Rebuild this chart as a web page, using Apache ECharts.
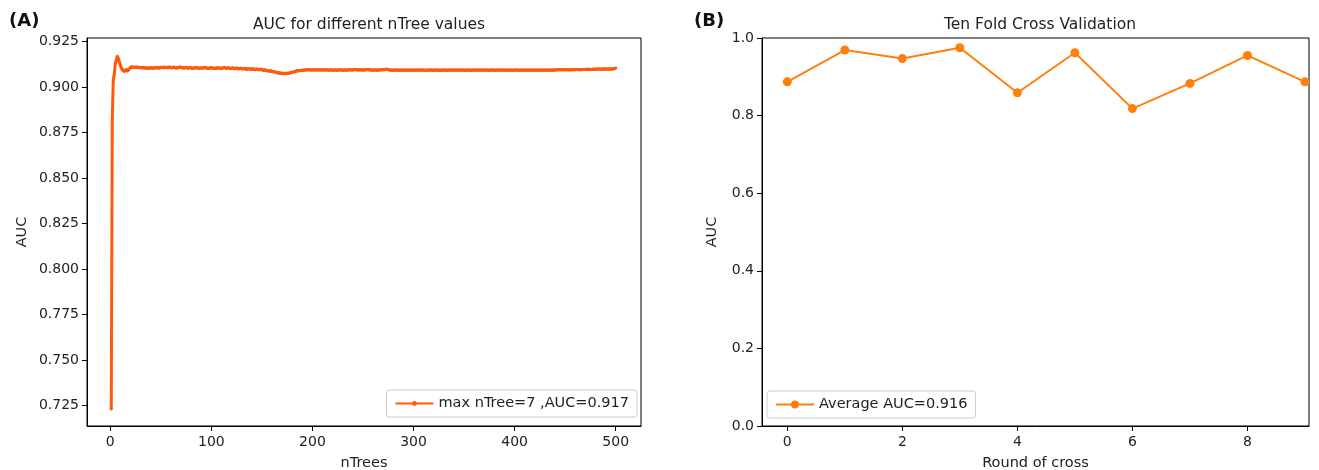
<!DOCTYPE html>
<html><head><meta charset="utf-8">
<script src="https://cdn.jsdelivr.net/npm/echarts@6/dist/echarts.min.js"></script>
<style>html,body{margin:0;padding:0;background:#fff}#c{width:1319px;height:470px}</style>
</head><body><div id="c"></div>
<script>
// Panel A: AUC for nTree = 1..500
const aucByTree = [
.7230,.8820,.9040,.9070,.9130,.9150,.9170,.9160,.9140,.9120,
.9105,.9095,.9090,.9086,.9092,.9098,.9089,.9094,.9101,.9109,
.9112,.9110,.9108,.9111,.9109,.9107,.9110,.9108,.9106,.9109,
.9107,.9105,.9108,.9106,.9104,.9107,.9105,.9103,.9106,.9108,
.9105,.9103,.9106,.9104,.9107,.9109,.9106,.9104,.9107,.9110,
.9108,.9106,.9109,.9111,.9108,.9106,.9109,.9107,.9110,.9108,
.9106,.9108,.9110,.9107,.9105,.9108,.9106,.9109,.9111,.9108,
.9106,.9108,.9105,.9107,.9109,.9106,.9104,.9106,.9108,.9105,
.9103,.9105,.9107,.9104,.9106,.9108,.9105,.9103,.9105,.9107,
.9104,.9106,.9108,.9105,.9107,.9104,.9102,.9105,.9107,.9104,
.9106,.9104,.9102,.9104,.9106,.9103,.9105,.9107,.9104,.9102,
.9104,.9106,.9108,.9105,.9103,.9105,.9107,.9104,.9102,.9104,
.9106,.9103,.9101,.9103,.9105,.9102,.9100,.9102,.9104,.9101,
.9099,.9101,.9103,.9100,.9098,.9100,.9102,.9099,.9097,.9099,
.9101,.9098,.9096,.9098,.9100,.9097,.9095,.9097,.9099,.9096,
.9094,.9092,.9095,.9093,.9090,.9092,.9089,.9087,.9090,.9086,
.9084,.9086,.9083,.9081,.9079,.9081,.9078,.9076,.9078,.9075,
.9074,.9077,.9075,.9073,.9076,.9078,.9076,.9079,.9082,.9080,
.9083,.9086,.9085,.9088,.9090,.9089,.9091,.9093,.9092,.9094,
.9093,.9095,.9094,.9096,.9095,.9094,.9096,.9095,.9094,.9095,
.9096,.9095,.9094,.9095,.9096,.9095,.9094,.9095,.9094,.9095,
.9094,.9095,.9096,.9095,.9094,.9093,.9094,.9095,.9094,.9093,
.9094,.9095,.9094,.9093,.9094,.9095,.9094,.9095,.9094,.9093,
.9094,.9095,.9094,.9093,.9094,.9095,.9096,.9095,.9094,.9095,
.9096,.9098,.9097,.9095,.9094,.9095,.9096,.9095,.9094,.9095,
.9094,.9095,.9096,.9098,.9097,.9095,.9094,.9095,.9094,.9093,
.9094,.9095,.9094,.9093,.9094,.9095,.9094,.9095,.9096,.9095,
.9096,.9098,.9099,.9098,.9096,.9095,.9094,.9094,.9093,.9094,
.9094,.9093,.9094,.9094,.9093,.9094,.9094,.9093,.9094,.9094,
.9093,.9094,.9094,.9093,.9094,.9093,.9094,.9094,.9093,.9094,
.9094,.9093,.9094,.9094,.9093,.9094,.9094,.9093,.9094,.9094,
.9093,.9094,.9093,.9094,.9094,.9093,.9094,.9094,.9093,.9094,
.9094,.9093,.9094,.9094,.9093,.9094,.9093,.9094,.9094,.9093,
.9094,.9094,.9093,.9094,.9094,.9093,.9094,.9094,.9093,.9094,
.9094,.9093,.9094,.9094,.9093,.9094,.9094,.9093,.9094,.9094,
.9093,.9094,.9094,.9093,.9094,.9094,.9093,.9094,.9094,.9093,
.9094,.9094,.9093,.9094,.9094,.9093,.9094,.9094,.9093,.9094,
.9094,.9093,.9094,.9094,.9093,.9094,.9094,.9093,.9094,.9094,
.9093,.9094,.9094,.9093,.9094,.9094,.9093,.9094,.9094,.9093,
.9094,.9094,.9093,.9094,.9094,.9093,.9094,.9094,.9093,.9094,
.9094,.9093,.9094,.9094,.9093,.9094,.9094,.9093,.9094,.9094,
.9093,.9094,.9094,.9093,.9094,.9094,.9093,.9094,.9094,.9093,
.9094,.9094,.9093,.9094,.9094,.9093,.9094,.9094,.9093,.9094,
.9094,.9093,.9094,.9094,.9093,.9094,.9094,.9093,.9094,.9095,
.9094,.9095,.9096,.9095,.9096,.9097,.9095,.9096,.9096,.9095,
.9096,.9095,.9096,.9096,.9095,.9096,.9096,.9097,.9096,.9097,
.9097,.9096,.9097,.9097,.9096,.9097,.9097,.9098,.9097,.9098,
.9098,.9097,.9098,.9098,.9097,.9098,.9098,.9099,.9098,.9098,
.9099,.9098,.9099,.9099,.9098,.9099,.9099,.9100,.9099,.9099,
.9100,.9099,.9100,.9100,.9099,.9100,.9100,.9101,.9102,.9105
];
const treeTicks = [0, 100, 200, 300, 400, 500];
const aucTicksA = [0.725, 0.750, 0.775, 0.800, 0.825, 0.850, 0.875, 0.900, 0.925];
const legendA = 'max nTree=7 ,AUC=0.917';

// Panel B: ten-fold cross validation
const folds = [0, 1, 2, 3, 4, 5, 6, 7, 8, 9];
const foldAuc = [0.887, 0.969, 0.947, 0.975, 0.859, 0.962, 0.818, 0.883, 0.955, 0.887];
const roundTicks = [0, 2, 4, 6, 8];
const aucTicksB = [0.0, 0.2, 0.4, 0.6, 0.8, 1.0];
const legendB = 'Average AUC=0.916';

const treeData = aucByTree.map((v, i) => [i + 1, v]);
const foldData = folds.map((f, i) => [f, foldAuc[i]]);

const FONT = 'DejaVu Sans';
const txt = {fontFamily: FONT, fontSize: 14, color: '#222'};
function xAx(idx, min, max, ticks, name, fmt) {
  return {
    type: 'value', gridIndex: idx, min: min, max: max,
    name: name, nameLocation: 'middle', nameGap: 30,
    nameTextStyle: {fontFamily: FONT, fontSize: 14.5, color: '#222'},
    axisLine: {show: true, onZero: false, lineStyle: {color: '#000', width: 1}},
    axisTick: {show: true, inside: false, length: 5, customValues: ticks, lineStyle: {color: '#000'}},
    axisLabel: Object.assign({customValues: ticks, margin: 9, formatter: fmt}, txt),
    splitLine: {show: false}
  };
}
function yAx(idx, min, max, ticks, fmt, gap) {
  return {
    type: 'value', gridIndex: idx, min: min, max: max,
    name: 'AUC', nameLocation: 'middle', nameGap: gap, nameRotate: 90,
    nameTextStyle: {fontFamily: FONT, fontSize: 14.5, color: '#222'},
    axisLine: {show: true, onZero: false, lineStyle: {color: '#000', width: 1}},
    axisTick: {show: true, inside: false, length: 5, customValues: ticks, lineStyle: {color: '#000'}},
    axisLabel: Object.assign({customValues: ticks, margin: 8, formatter: fmt}, txt),
    splitLine: {show: false}
  };
}

const chart = echarts.init(document.getElementById('c'), null, {renderer: 'canvas'});
chart.setOption({
  animation: false,
  backgroundColor: '#fff',
  title: [
    {text: '(A)', left: 4, top: 7, textStyle: {fontFamily: FONT, fontSize: 18, fontWeight: 'bold', color: '#111'}},
    {text: '(B)', left: 689, top: 7, textStyle: {fontFamily: FONT, fontSize: 18, fontWeight: 'bold', color: '#111'}},
    {text: 'AUC for different nTree values', left: 364, top: 12, textAlign: 'center',
     textStyle: {fontFamily: FONT, fontSize: 15.5, fontWeight: 'normal', color: '#222'}},
    {text: 'Ten Fold Cross Validation', left: 1035, top: 12, textAlign: 'center',
     textStyle: {fontFamily: FONT, fontSize: 15.5, fontWeight: 'normal', color: '#222'}}
  ],
  grid: [
    {left: 87, top: 38, width: 554, height: 388, show: true, borderColor: '#000', borderWidth: 1,
     backgroundColor: 'transparent', containLabel: false, outerBoundsMode: 'none'},
    {left: 762, top: 38, width: 547, height: 388, show: true, borderColor: '#000', borderWidth: 1,
     backgroundColor: 'transparent', containLabel: false, outerBoundsMode: 'none'}
  ],
  xAxis: [
    xAx(0, -23, 525, treeTicks, 'nTrees', v => String(v)),
    xAx(1, -0.44, 9.07, roundTicks, 'Round of cross', v => String(v))
  ],
  yAxis: [
    yAx(0, 0.7137, 0.9270, aucTicksA, v => v.toFixed(3), 57),
    yAx(1, 0, 1.0, aucTicksB, v => v.toFixed(1), 42)
  ],
  legend: [
    {data: [{name: legendA, itemStyle: {borderWidth: 0}}], right: 1319 - 637, top: 390, orient: 'vertical',
     borderColor: '#ccc', borderWidth: 1, borderRadius: 3, padding: [6, 8, 6, 8],
     itemWidth: 38, itemHeight: 6, itemGap: 4,
     textStyle: {fontFamily: FONT, fontSize: 14.5, color: '#222'}},
    {data: [legendB], left: 767, top: 391, orient: 'vertical',
     borderColor: '#ccc', borderWidth: 1, borderRadius: 3, padding: [6, 8, 6, 8],
     itemWidth: 38, itemHeight: 10, itemGap: 4,
     textStyle: {fontFamily: FONT, fontSize: 14.5, color: '#222'}}
  ],
  series: [
    {name: legendA, type: 'line', xAxisIndex: 0, yAxisIndex: 0, data: treeData,
     symbol: 'circle', symbolSize: 3, showSymbol: true,
     lineStyle: {color: '#ff5a0a', width: 3}, itemStyle: {color: '#ff5a0a'}},
    {name: legendB, type: 'line', xAxisIndex: 1, yAxisIndex: 1, data: foldData,
     symbol: 'circle', symbolSize: 9, showSymbol: true,
     lineStyle: {color: '#ff7f0e', width: 2}, itemStyle: {color: '#ff7f0e'}}
  ]
});
</script></body></html>
